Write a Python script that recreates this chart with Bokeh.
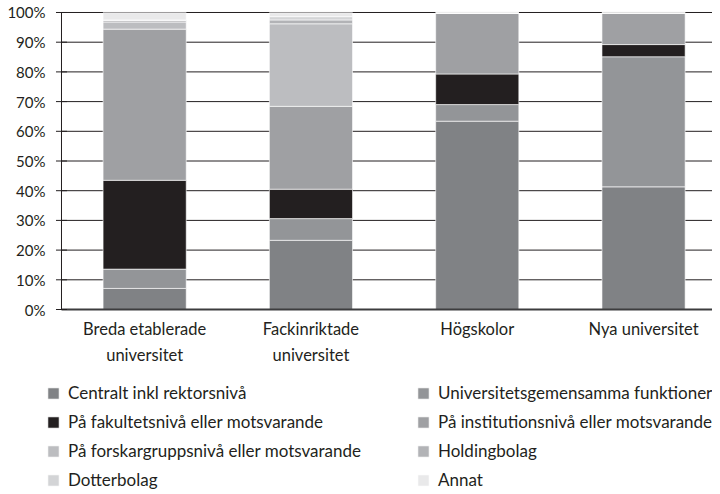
from bokeh.plotting import figure
from bokeh.models import (ColumnDataSource, Range1d, Legend, LegendItem)
from bokeh.core.properties import value
from bokeh.embed import file_html
from bokeh.resources import INLINE

# ---- data (percent) ----
categories = ["Breda etablerade\nuniversitet", "Fackinriktade\nuniversitet", "Högskolor", "Nya universitet"]
centralt = [7.1, 23.3, 63.4, 41.3]
univgem = [6.5, 7.3, 5.6, 43.8]
fakultet = [29.9, 9.9, 10.3, 4.1]
institution = [50.9, 27.9, 20.5, 10.5]
forskargrupp = [2.4, 27.8, 0.0, 0.0]
holding = [0.5, 1.3, 0.0, 0.0]
dotterbolag = [0.2, 1.1, 0.0, 0.0]
annat = [2.4, 1.3, 0.0, 0.3]
y_ticks = list(range(0, 101, 10))
y_tick_labels = [f"{t}%" for t in y_ticks]

series_names = ["Centralt inkl rektorsnivå", "Universitetsgemensamma funktioner",
                "På fakultetsnivå eller motsvarande", "På institutionsnivå eller motsvarande",
                "På forskargruppsnivå eller motsvarande", "Holdingbolag",
                "Dotterbolag", "Annat"]
series_keys = ["centralt", "univgem", "fakultet", "institution",
               "forskargrupp", "holding", "dotterbolag", "annat"]
colors = ["#808285", "#939598", "#231f20", "#9fa0a3",
          "#bcbdc0", "#b2b3b6", "#d3d4d6", "#e9e9ea"]

x_pos = [i + 0.5 for i in range(len(categories))]
source = ColumnDataSource(data=dict(
    x=x_pos, centralt=centralt, univgem=univgem, fakultet=fakultet,
    institution=institution, forskargrupp=forskargrupp, holding=holding,
    dotterbolag=dotterbolag, annat=annat))
label_source = ColumnDataSource(data=dict(x=x_pos, y=[0] * len(x_pos), text=categories))

FONT = "Lato"
TXT = "#231f20"
X_START, X_END = -0.3668, 3.9146

p = figure(width=712, height=490, output_backend="svg", toolbar_location=None,
           x_range=Range1d(X_START, X_END), y_range=Range1d(-60.94, 104.04),
           min_border_left=0, min_border_right=0, min_border_top=0, min_border_bottom=0)
p.outline_line_color = None
p.background_fill_color = "white"
p.border_fill_color = "white"
p.xaxis.visible = False
p.yaxis.visible = False
p.xgrid.grid_line_color = None
p.ygrid.grid_line_color = None

# horizontal grid lines, from the value axis to the right edge
n = len(y_ticks)
p.segment(x0=[0] * n, y0=y_ticks, x1=[X_END] * n, y1=y_ticks,
          line_color="#231f20", line_width=1)

renderers = p.vbar_stack(series_keys, x="x", width=0.5, source=source,
                         fill_color=colors, line_color="white", line_width=0.6)

# bottom baseline
p.segment(x0=[0], y0=[0], x1=[X_END], y1=[0], line_color="#3c3c3e", line_width=2)

# value axis: line, ticks, labels
p.segment(x0=[0], y0=[0], x1=[0], y1=[100], line_color="#231f20", line_width=1)
p.scatter(x=[0] * n, y=y_ticks, marker="dash", size=11, line_color="#231f20",
          line_width=1)
p.text(x=[0] * n, y=y_ticks, text=y_tick_labels, text_align="right",
       text_baseline="middle", x_offset=-16, text_font=value(FONT),
       text_font_size="15px", text_color=TXT)

# category labels under the baseline
p.text(x="x", y="y", text="text", source=label_source, text_align="center",
       text_baseline="top", y_offset=9, text_line_height=1.3,
       text_font=value(FONT), text_font_size="16.5px", text_color=TXT)

# legend
items = [LegendItem(label=nm, renderers=[r]) for nm, r in zip(series_names, renderers)]
legend = Legend(items=items, location=(46, 0), orientation="horizontal", ncols=2,
                glyph_width=14, glyph_height=14, label_standoff=8, label_width=340,
                label_height=20, spacing=8, padding=0, margin=0,
                border_line_color=None, background_fill_alpha=0,
                label_text_font=FONT, label_text_font_size="17px", label_text_color=TXT)
p.add_layout(legend)

open("out.html", "w").write(file_html(p, INLINE))
